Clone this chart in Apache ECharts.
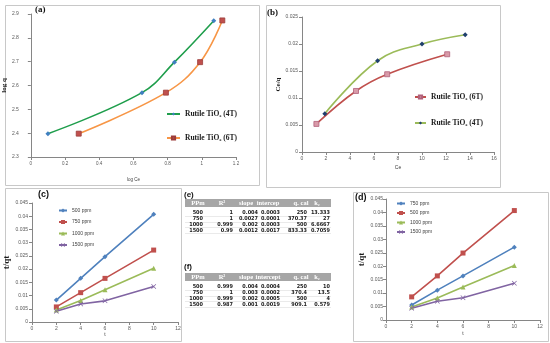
<!DOCTYPE html>
<html><head><meta charset="utf-8">
<script src="https://cdn.jsdelivr.net/npm/echarts@6/dist/echarts.min.js"></script>
<style>html,body{margin:0;padding:0;background:#fff}#c{width:550px;height:343px}</style>
</head><body><div id="c"></div>
<script>
// ---------- DATA ----------
// (a) Freundlich: log q vs log Ce
const aX4T = [0.10, 0.65, 0.84, 1.07];
const aY4T = [2.398, 2.570, 2.698, 2.872];
const aX6T = [0.28, 0.79, 0.99, 1.12];
const aY6T = [2.398, 2.570, 2.698, 2.873];
// (b) Langmuir: Ce/q vs Ce
const bX6T = [1.2, 4.5, 7.1, 12.1];
const bY6T = [0.0052, 0.0113, 0.0144, 0.0181];
const bX4T = [1.9, 6.3, 10.0, 13.6];
const bY4T = [0.0071, 0.0169, 0.0200, 0.0217];
// (c) and (d) t/qt vs t
const tValues = [2, 4, 6, 10];
const c500 = [0.0083, 0.0165, 0.0247, 0.0407];
const c750 = [0.0057, 0.0111, 0.0165, 0.0272];
const c1000 = [0.0045, 0.0081, 0.0122, 0.0203];
const c1500 = [0.0041, 0.0068, 0.0080, 0.0134];
const d750 = [0.0056, 0.0111, 0.0164, 0.0271];
const d500 = [0.0086, 0.0164, 0.0249, 0.0407];
const d1000 = [0.0048, 0.0082, 0.0123, 0.0203];
const d1500 = [0.0044, 0.0070, 0.0083, 0.0137];
// legend labels
const legendNames = {
  a4: 'Rutile TiO\u2082 (4T)', a6: 'Rutile TiO\u2082 (6T)',
  b6: 'Rutile TiO\u2082 (6T)', b4: 'Rutile TiO\u2082 (4T)',
  c500: '500 ppm', c750: '750 ppm', c1000: '1000 ppm', c1500: '1500 ppm',
  d750: '750 ppm', d500: '500 ppm', d1000: '1000 ppm', d1500: '1500 ppm'
};
// panel labels
const panelLabels = ['(a)', '(b)', '(c)', '(d)', '(e)', '(f)'];
// tables
const tableHeadE = ['PPm', 'R\u00b2', 'slope', 'intercep', 'q\u2091 cal', 'k\u2082'];
const tableRowsE = [
  ['500', '1', '0.004', '0.0003', '250', '13.333'],
  ['750', '1', '0.0027', '0.0001', '370.37', '27'],
  ['1000', '0.999', '0.002', '0.0003', '500', '6.6667'],
  ['1500', '0.99', '0.0012', '0.0017', '833.33', '0.7059']
];
const tableHeadF = ['PPm', 'R\u00b2', 'slope', 'intercept', 'q\u2091 cal', 'k\u2082'];
const tableRowsF = [
  ['500', '0.999', '0.004', '0.0004', '250', '10'],
  ['750', '1', '0.003', '0.0002', '370.4', '13.5'],
  ['1000', '0.999', '0.002', '0.0005', '500', '4'],
  ['1500', '0.987', '0.001', '0.0019', '909.1', '0.579']
];

// ---------- RENDER ----------
const chart = echarts.init(document.getElementById('c'), null, {renderer: 'canvas', width: 550, height: 343});
const axisCol = '#868686';
const SANS = '"Liberation Sans", Arial, sans-serif';
const SERIF = '"Liberation Serif", "Times New Roman", serif';
const COND = '"DejaVu Sans Condensed", "Liberation Sans Narrow", sans-serif';

function vAxis(gi, min, max, interval, name, nameGap, nameStyle, lblMargin, lblSize) {
  return {
    type: 'value', gridIndex: gi, min: min, max: max, interval: interval,
    name: name, nameLocation: 'middle', nameGap: nameGap, nameTextStyle: nameStyle,
    splitLine: {show: false},
    axisLine: {show: true, onZero: false, lineStyle: {color: axisCol, width: 1}},
    axisTick: {show: true, length: 3, lineStyle: {color: axisCol}},
    axisLabel: {fontSize: lblSize || 5, color: '#595959', fontFamily: SANS, margin: lblMargin}
  };
}
const serifBold = s => ({fontFamily: SERIF, fontWeight: 'bold', fontSize: s, color: '#1a1a1a'});
const sansSmall = s => ({fontFamily: SANS, fontSize: s, color: '#404040'});

function pts(xs, ys) { return xs.map((x, i) => [x, ys[i]]); }
function line(name, gi, xs, ys, lineColor, symbol, symColor, size, smooth, border) {
  return {
    name: name, type: 'line', xAxisIndex: gi, yAxisIndex: gi, data: pts(xs, ys),
    smooth: smooth || false, symbol: symbol, symbolSize: size, showSymbol: true,
    lineStyle: {color: lineColor, width: 1.6},
    itemStyle: {color: symColor, borderColor: border || symColor, borderWidth: border ? 0.8 : 0},
    emphasis: {disabled: true}
  };
}
const XSYM = 'path://M0,1 L1,0 L5,4 L9,0 L10,1 L6,5 L10,9 L9,10 L5,6 L1,10 L0,9 L4,5 Z';

function legend(left, top, gap, w, h, names, textStyle) {
  return {
    left: left, top: top, orient: 'vertical', padding: 0, itemGap: gap,
    itemWidth: w, itemHeight: h, selectedMode: false, data: names,
    formatter: n => legendNames[n], textStyle: textStyle
  };
}

// graphics
const graphics = [];
function box(x0, y0, x1, y1) {
  graphics.push({type: 'rect', silent: true, shape: {x: x0 + 0.5, y: y0 + 0.5, width: x1 - x0, height: y1 - y0},
    style: {fill: 'none', stroke: '#c8c8c8', lineWidth: 1}});
}
function txt(x, y, s, font, fill, align) {
  graphics.push({type: 'text', silent: true, style: {text: s, x: x, y: y, font: font, fill: fill,
    align: align || 'left', verticalAlign: 'middle'}});
}
box(5, 5, 259, 185);
box(266, 5, 500, 187);
box(5, 188, 181, 341);
box(353, 192, 548, 341);

txt(35, 10, panelLabels[0], 'bold 9px ' + SERIF, '#111');
txt(267, 13, panelLabels[1], 'bold 9px ' + SERIF, '#111');
txt(38, 195, panelLabels[2], 'bold 9px ' + SANS, '#111');
txt(355, 198, panelLabels[3], 'bold 9px ' + SANS, '#111');
txt(184, 195, panelLabels[4], 'bold 8px ' + SANS, '#111');
txt(184, 267, panelLabels[5], 'bold 8px ' + SANS, '#111');

const colRight = [203, 233, 258, 280, 307, 330];
const headCenter = [198, 222, 246, 268, 301, 317];
function table(headTop, head, rows) {
  const x0 = 185, x1 = 331, headH = 8, rowH = 5.7;
  graphics.push({type: 'rect', silent: true, shape: {x: x0, y: headTop, width: x1 - x0, height: headH},
    style: {fill: '#a6a6a6'}});
  head.forEach((h, i) => txt(headCenter[i], headTop + headH / 2, h, 'bold 6.5px ' + SERIF, '#ffffff', 'center'));
  const y0 = headTop + headH + 6;
  rows.forEach((r, ri) => {
    const cy = y0 + ri * rowH;
    r.forEach((v, ci) => txt(colRight[ci], cy, v, 'bold 5.5px ' + COND, '#1a1a1a', 'right'));
    graphics.push({type: 'line', silent: true, shape: {x1: x0, y1: Math.round(cy + rowH / 2) + 0.5, x2: x1, y2: Math.round(cy + rowH / 2) + 0.5},
      style: {stroke: '#dcdcdc', lineWidth: 0.6}});
  });
}
table(199, tableHeadE, tableRowsE);
table(273, tableHeadF, tableRowsF);

const option = {
  animation: false,
  backgroundColor: '#ffffff',
  grid: [
    {left: 30, top: 14, width: 206, height: 143},
    {left: 302, top: 17, width: 192, height: 135},
    {left: 32, top: 203, width: 146, height: 119},
    {left: 386, top: 199, width: 154, height: 121}
  ],
  xAxis: [
    vAxis(0, 0, 1.2, 0.2, 'log Ce', 20, sansSmall(4.5), 4, 4.5),
    vAxis(1, 0, 16, 2, 'Ce', 13, sansSmall(5), 4),
    vAxis(2, 0, 12, 2, 't', 10, sansSmall(5), 4),
    vAxis(3, 0, 12, 2, 't', 11, sansSmall(5), 4)
  ],
  yAxis: [
    vAxis(0, 2.3, 2.9, 0.1, 'log q', 15, serifBold(7), 12),
    vAxis(1, 0, 0.025, 0.005, 'Ce/q', 20, serifBold(7), 4),
    vAxis(2, 0, 0.045, 0.005, 't/qt', 18, serifBold(9), 4),
    vAxis(3, 0, 0.045, 0.005, 't/qt', 19, serifBold(9), 3)
  ],
  legend: [
    legend(166, 110, 16, 13, 4, ['a4', 'a6'], serifBold(7.5)),
    legend(414, 93, 18, 11, 4, ['b6', 'b4'], serifBold(7.5)),
    legend(58, 208, 6.5, 8, 5, ['c500', 'c750', 'c1000', 'c1500'], sansSmall(5)),
    legend(396, 201, 4.5, 8, 5, ['d750', 'd500', 'd1000', 'd1500'], sansSmall(5))
  ],
  series: [
    line('a4', 0, aX4T, aY4T, '#1f9e4c', 'diamond', '#3f7fc0', 5, 0.4),
    line('a6', 0, aX6T, aY6T, '#f79646', 'rect', '#c0504d', 5, 0.4, '#9b3c3a'),
    line('b6', 1, bX6T, bY6T, '#c0504d', 'rect', '#d99aa8', 5, 0.4, '#b0607a'),
    line('b4', 1, bX4T, bY4T, '#9bbb59', 'diamond', '#1f3f6d', 5, 0.4),
    line('c500', 2, tValues, c500, '#4f81bd', 'diamond', '#4f81bd', 5),
    line('c750', 2, tValues, c750, '#c0504d', 'rect', '#c0504d', 5),
    line('c1000', 2, tValues, c1000, '#9bbb59', 'triangle', '#9bbb59', 5),
    line('c1500', 2, tValues, c1500, '#8064a2', XSYM, '#8064a2', 5),
    line('d750', 3, tValues, d750, '#4f81bd', 'diamond', '#4f81bd', 5),
    line('d500', 3, tValues, d500, '#c0504d', 'rect', '#c0504d', 5),
    line('d1000', 3, tValues, d1000, '#9bbb59', 'triangle', '#9bbb59', 5),
    line('d1500', 3, tValues, d1500, '#8064a2', XSYM, '#8064a2', 5)
  ],
  graphic: graphics
};
chart.setOption(option);
</script>
</body></html>
